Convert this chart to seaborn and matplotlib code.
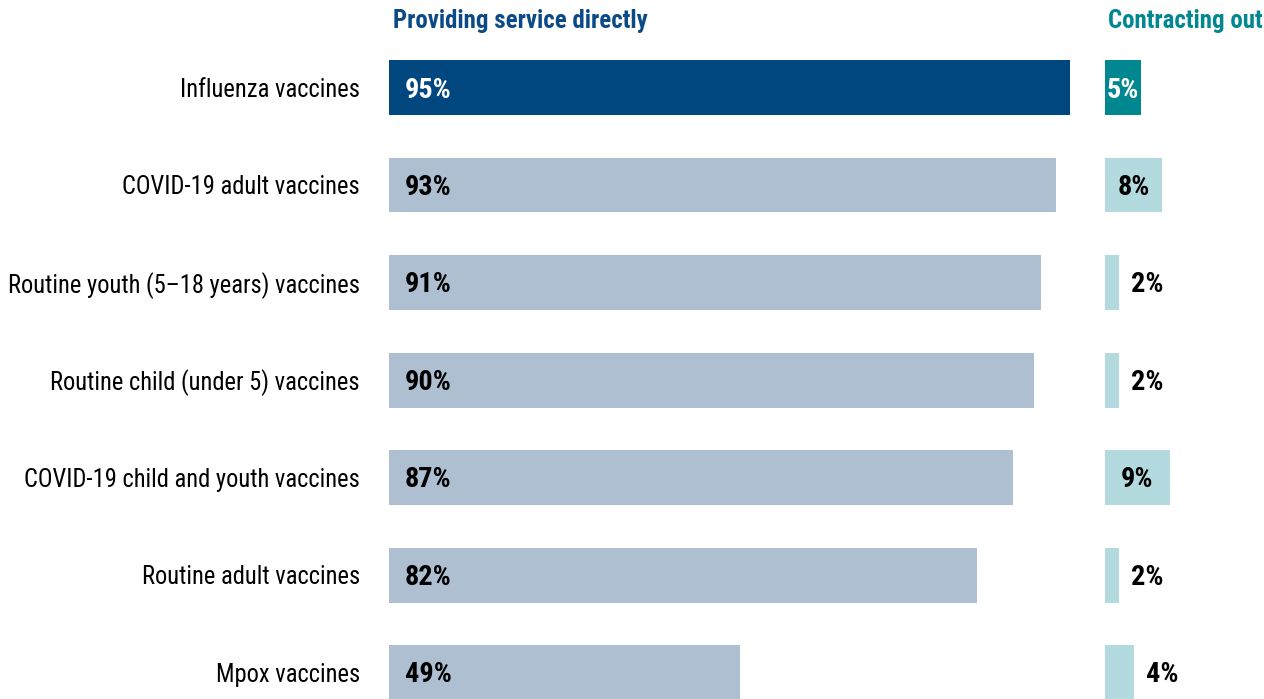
import matplotlib
matplotlib.use("Agg")
import matplotlib.pyplot as plt
from matplotlib import font_manager
import seaborn as sns
import pandas as pd

# Data
categories = [
    "Influenza vaccines",
    "COVID-19 adult vaccines",
    "Routine youth (5\u201318 years) vaccines",
    "Routine child (under 5) vaccines",
    "COVID-19 child and youth vaccines",
    "Routine adult vaccines",
    "Mpox vaccines",
]
direct_pct = [95, 93, 91, 90, 87, 82, 49]
contract_pct = [5, 8, 2, 2, 9, 2, 4]
panel_titles = ["Providing service directly", "Contracting out"]

# Style: prefer a narrow / condensed sans face when one is installed
sns.set_theme(style="white")
NARROW = ("condensed", "semi-condensed", "extra-condensed", "ultra-condensed")


def is_narrow(f):
    st = f.stretch
    if isinstance(st, (int, float)):
        return st < 500
    return st in NARROW or "Narrow" in f.name or "Condensed" in f.name


entries = font_manager.fontManager.ttflist
narrow_names = {f.name for f in entries if is_narrow(f)}
preference = ["Roboto Condensed", "Liberation Sans Narrow", "Open Sans Condensed",
              "Open Sans", "Noto Sans", "DejaVu Sans Condensed", "DejaVu Sans",
              "Roboto", "Lato", "Inter"]
family = next((n for n in preference if n in narrow_names),
              next(iter(sorted(narrow_names)), None))
stretch = "condensed"
if family is None:
    family, stretch = "Liberation Sans", "normal"
plt.rcParams["font.family"] = [family, "DejaVu Sans"]
plt.rcParams["font.stretch"] = stretch

DARK_BLUE = "#00477F"
LIGHT_BLUE = "#ADBFD1"
TEAL = "#00878F"
LIGHT_TEAL = "#B2DADF"
TITLE_BLUE = "#0B4A86"
TITLE_TEAL = "#00878F"

W, H = 1264, 699
fig = plt.figure(figsize=(W / 100, H / 100), dpi=100)
renderer = fig.canvas.get_renderer()


def fitted_size(text, target_px, base=24, weight="normal"):
    t = fig.text(0, 0, text, fontsize=base, fontweight=weight)
    w = t.get_window_extent(renderer).width
    t.remove()
    return base * target_px / w


label_size = fitted_size(categories[2], 353)
value_size = fitted_size("95%", 47, weight="bold")
title_size = fitted_size(panel_titles[0], 255, weight="bold")

px_per_pct = 681 / 95.0
row0, row_step = 87.5, 97.5
y_top = -row0 / row_step
y_bot = (H - row0) / row_step
text_dy = 2.5 / row_step

df = pd.DataFrame({"category": categories, "direct": direct_pct, "contract": contract_pct})

# Left panel: providing service directly
left1, right1 = 389, 1095
ax1 = fig.add_axes([left1 / W, 0, (right1 - left1) / W, 1])
sns.barplot(data=df, x="direct", y="category", hue="category",
            palette=[DARK_BLUE] + [LIGHT_BLUE] * (len(categories) - 1),
            legend=False, width=55 / row_step, saturation=1, ax=ax1)
ax1.set_xlim(0, (right1 - left1) / px_per_pct)
ax1.set_ylim(y_bot, y_top)

# Right panel: contracting out
left2 = 1105
ax2 = fig.add_axes([left2 / W, 0, (W - left2) / W, 1])
sns.barplot(data=df, x="contract", y="category", hue="category",
            palette=[TEAL] + [LIGHT_TEAL] * (len(categories) - 1),
            legend=False, width=55 / row_step, saturation=1, ax=ax2)
ax2.set_xlim(0, (W - left2) / px_per_pct)
ax2.set_ylim(y_bot, y_top)

for ax in (ax1, ax2):
    ax.set_xlabel("")
    ax.set_ylabel("")
    ax.set_xticks([])
    for s in ax.spines.values():
        s.set_visible(False)
    ax.set_facecolor("none")
    for p in ax.patches:
        p.set_linewidth(0)

ax1.tick_params(axis="y", length=0, pad=21, labelsize=label_size, labelcolor="black")
ax2.set_yticks([])

# Value labels
for i, v in enumerate(direct_pct):
    ax1.text(16 / px_per_pct, i + text_dy, f"{v}%", ha="left", va="center",
             fontsize=value_size, fontweight="bold",
             color="white" if i == 0 else "black")

for i, v in enumerate(contract_pct):
    color = "white" if i == 0 else "black"
    if v >= 5:
        ax2.text(v / 2, i + text_dy, f"{v}%", ha="center", va="center",
                 fontsize=value_size, fontweight="bold", color=color)
    else:
        ax2.text(v + 12 / px_per_pct, i + text_dy, f"{v}%", ha="left", va="center",
                 fontsize=value_size, fontweight="bold", color="black")

# Panel headers
fig.text(393 / W, 1 - 21 / H, panel_titles[0], ha="left", va="center",
         fontsize=title_size, fontweight="bold", color=TITLE_BLUE)
fig.text(1 - 1 / W, 1 - 21 / H, panel_titles[1], ha="right", va="center",
         fontsize=title_size, fontweight="bold", color=TITLE_TEAL)

fig.savefig("out.png", dpi=100)
